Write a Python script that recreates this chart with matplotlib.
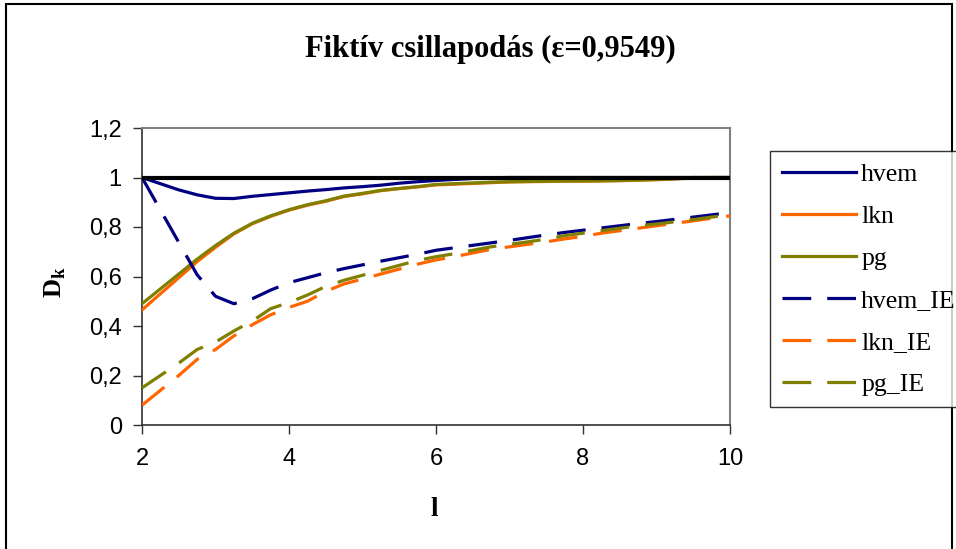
import matplotlib
matplotlib.use("Agg")
import matplotlib.pyplot as plt
from matplotlib.patches import Rectangle
from matplotlib.ticker import FuncFormatter

plt.rcParams["mathtext.fontset"] = "custom"
plt.rcParams["mathtext.rm"] = "Liberation Serif:bold"
plt.rcParams["mathtext.bf"] = "Liberation Serif:bold"

# damping ratio D_k against l, six series
l_vals = [2.0, 2.25, 2.5, 2.75, 3.0, 3.25, 3.5, 3.75, 4.0, 4.25, 4.5, 4.75,
          5.0, 5.25, 5.5, 5.75, 6.0, 6.25, 6.5, 6.75, 7.0, 7.25, 7.5, 7.75,
          8.0, 8.25, 8.5, 8.75, 9.0, 9.25, 9.5, 9.75, 10.0]

hvem = [1.0, 0.975, 0.95, 0.93, 0.916, 0.915, 0.924, 0.931, 0.938, 0.945,
        0.951, 0.958, 0.963, 0.969, 0.977, 0.983, 0.988, 0.992, 0.996, 0.999,
        1.0, 1.0, 1.0, 1.0, 1.0, 1.0, 1.0, 1.0, 1.0, 1.0, 1.0, 1.0, 1.0]
lkn = [0.465, 0.53, 0.595, 0.66, 0.718, 0.772, 0.813, 0.843, 0.868, 0.888,
       0.904, 0.923, 0.934, 0.947, 0.955, 0.962, 0.97, 0.973, 0.976, 0.979,
       0.982, 0.983, 0.984, 0.985, 0.985, 0.986, 0.987, 0.989, 0.991, 0.994,
       0.998, 1.0, 1.0]
pg = [0.49, 0.55, 0.61, 0.67, 0.725, 0.775, 0.815, 0.845, 0.87, 0.89,
      0.906, 0.925, 0.936, 0.948, 0.956, 0.963, 0.972, 0.975, 0.978, 0.981,
      0.983, 0.984, 0.985, 0.986, 0.986, 0.987, 0.988, 0.99, 0.992, 0.995,
      1.0, 1.0, 1.0]
hvem_ie = [1.0, 0.869, 0.738, 0.607, 0.52, 0.49, 0.51, 0.545, 0.575, 0.595,
           0.615, 0.632, 0.647, 0.662, 0.676, 0.69, 0.706, 0.716, 0.726,
           0.736, 0.746, 0.757, 0.768, 0.778, 0.787, 0.796, 0.805, 0.814,
           0.822, 0.831, 0.84, 0.849, 0.858]
lkn_ie = [0.08, 0.14, 0.2, 0.265, 0.305, 0.36, 0.405, 0.445, 0.475, 0.5,
          0.54, 0.57, 0.59, 0.61, 0.63, 0.65, 0.667, 0.68, 0.695, 0.71, 0.72,
          0.73, 0.74, 0.752, 0.762, 0.775, 0.785, 0.795, 0.805, 0.815, 0.825,
          0.835, 0.845]
pg_ie = [0.15, 0.2, 0.25, 0.305, 0.335, 0.38, 0.42, 0.47, 0.495, 0.525,
         0.56, 0.585, 0.605, 0.625, 0.645, 0.665, 0.68, 0.692, 0.706, 0.72,
         0.73, 0.74, 0.751, 0.765, 0.775, 0.785, 0.795, 0.805, 0.812, 0.821,
         0.83, 0.84, 0.85]

x_ticks = [2, 4, 6, 8, 10]
y_ticks = [0, 0.2, 0.4, 0.6, 0.8, 1.0, 1.2]

NAVY, ORANGE, OLIVE = "#000080", "#FF6600", "#808000"
serif = "Liberation Serif"
sans = "Liberation Sans"

fig = plt.figure(figsize=(9.56, 5.49), dpi=100)
ax = fig.add_axes([142 / 956, 1 - 425 / 549, 588 / 956, 297 / 549])

lw = 2.3
dash = (9, 5)
ax.plot(l_vals, hvem, color=NAVY, lw=lw, label="hvem", zorder=3)
ax.plot(l_vals, lkn, color=ORANGE, lw=lw, label="lkn", zorder=3)
ax.plot(l_vals, pg, color=OLIVE, lw=lw, label="pg", zorder=3)
ax.plot(l_vals, hvem_ie, color=NAVY, lw=lw, dashes=dash, label="hvem_IE", zorder=3)
ax.plot(l_vals, lkn_ie, color=ORANGE, lw=lw, dashes=dash, label="lkn_IE", zorder=3)
ax.plot(l_vals, pg_ie, color=OLIVE, lw=lw, dashes=dash, label="pg_IE", zorder=3)
ax.axhline(1.0, color="black", lw=3.0, zorder=4)

ax.set_xlim(2, 10)
ax.set_ylim(0, 1.2)
ax.set_xticks(x_ticks)
ax.set_yticks(y_ticks)
ax.yaxis.set_major_formatter(FuncFormatter(lambda v, _: f"{v:g}".replace(".", ",")))
ax.tick_params(direction="out", length=6.5, width=1, color="#303030",
               labelsize=17, pad=8)
ax.tick_params(axis="x", pad=10)
for t in ax.get_xticklabels() + ax.get_yticklabels():
    t.set_fontfamily(sans)

for side in ("left", "bottom"):
    ax.spines[side].set_color("#303030")
    ax.spines[side].set_linewidth(1.2)
for side in ("top", "right"):
    ax.spines[side].set_color("#808080")
    ax.spines[side].set_linewidth(1.5)

fig.text(490 / 956, 1 - 49 / 549, "Fiktív csillapodás (ε=0,9549)",
         ha="center", va="center", fontsize=22, fontweight="bold",
         fontfamily=serif)
fig.text(55 / 956, 1 - 282 / 549, r"D$_\mathrm{k}$", rotation=90,
         ha="center", va="center", fontsize=19, fontweight="bold",
         fontfamily=serif)
fig.text(434 / 956, 1 - 509 / 549, "l", ha="center", va="center",
         fontsize=19.5, fontweight="bold", fontfamily=serif)

leg = fig.legend(loc="upper left", bbox_to_anchor=(770 / 956, 1 - 151 / 549),
                 frameon=True, fancybox=False, handlelength=2.9,
                 handletextpad=0.2, labelspacing=0.74, borderpad=0.45,
                 borderaxespad=0, prop={"family": serif, "size": 18.5})
leg.get_frame().set_edgecolor("black")
leg.get_frame().set_linewidth(1.0)

# outer chart frame
fig.patches.append(Rectangle((6 / 956, -0.05), 946 / 956, 1.05 - 4 / 549,
                             transform=fig.transFigure, fill=False,
                             edgecolor="black", lw=1.5))

fig.savefig("out.png", dpi=100)
